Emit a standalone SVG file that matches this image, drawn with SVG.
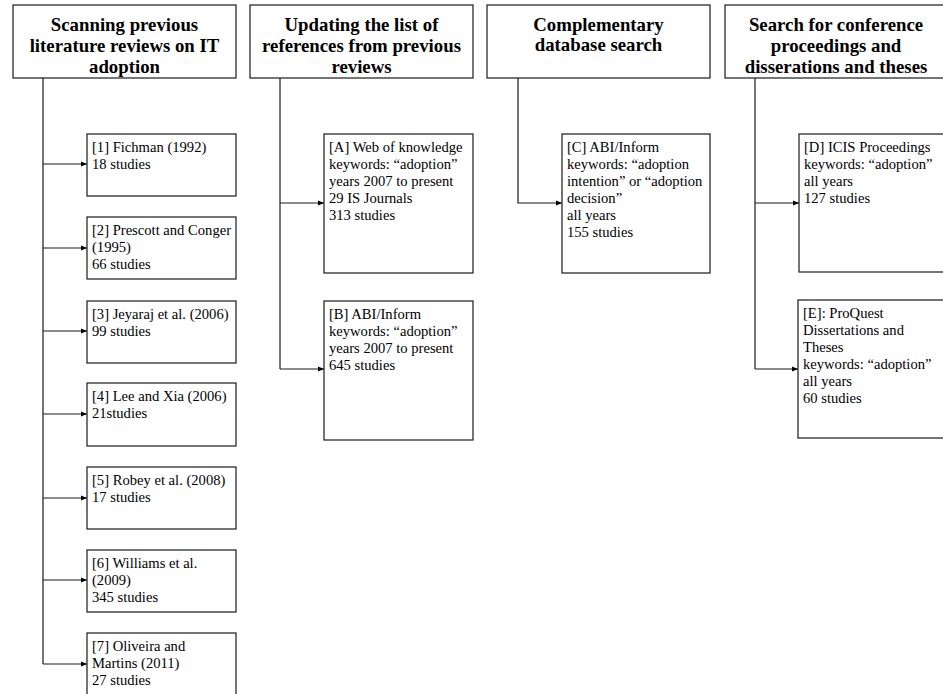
<svg xmlns="http://www.w3.org/2000/svg" width="943" height="694" viewBox="0 0 943 694">
<style>
.box{fill:#fff;stroke:#1a1a1a;stroke-width:1.2}
.h{font-family:"Liberation Serif","Times New Roman",serif;font-size:18.8px;font-weight:bold;text-anchor:middle;fill:#000}
.t{font-family:"Liberation Serif","Times New Roman",serif;font-size:14.6px;fill:#000}
.ln{fill:none;stroke:#1a1a1a;stroke-width:1.2}
</style>
<defs>
<marker id="ah" viewBox="0 0 6 6" refX="6" refY="3" markerWidth="6" markerHeight="6" markerUnits="userSpaceOnUse" orient="auto">
<path d="M0,0.5 L6,3 L0,5.5 Z" fill="#000"/>
</marker>
</defs>
<rect width="943" height="694" fill="#fff"/>
<g id="connectors">
<path class="ln" d="M43,78 V664"/>
<path class="ln" d="M43,164 H87" marker-end="url(#ah)"/>
<path class="ln" d="M43,248 H87" marker-end="url(#ah)"/>
<path class="ln" d="M43,331 H87" marker-end="url(#ah)"/>
<path class="ln" d="M43,414 H87" marker-end="url(#ah)"/>
<path class="ln" d="M43,498 H87" marker-end="url(#ah)"/>
<path class="ln" d="M43,580 H87" marker-end="url(#ah)"/>
<path class="ln" d="M43,664 H87" marker-end="url(#ah)"/>
<path class="ln" d="M280,78 V369"/>
<path class="ln" d="M280,203 H324" marker-end="url(#ah)"/>
<path class="ln" d="M280,369 H324" marker-end="url(#ah)"/>
<path class="ln" d="M518,78 V203 H562" marker-end="url(#ah)"/>
<path class="ln" d="M755,78 V369"/>
<path class="ln" d="M755,203 H799" marker-end="url(#ah)"/>
<path class="ln" d="M755,369 H798" marker-end="url(#ah)"/>
</g>
<g id="h1">
<rect class="box" x="13" y="5" width="223" height="73"/>
<text class="h" x="124.5" y="31">Scanning previous</text>
<text class="h" x="124.5" y="52">literature reviews on IT</text>
<text class="h" x="124.5" y="73">adoption</text>
</g>
<g id="h2">
<rect class="box" x="250" y="5" width="223" height="73"/>
<text class="h" x="361.5" y="31">Updating the list of</text>
<text class="h" x="361.5" y="52">references from previous</text>
<text class="h" x="361.5" y="73">reviews</text>
</g>
<g id="h3">
<rect class="box" x="487" y="5" width="223" height="73"/>
<text class="h" x="598.5" y="31">Complementary</text>
<text class="h" x="598.5" y="51">database search</text>
</g>
<g id="h4">
<rect class="box" x="725" y="5" width="223" height="73"/>
<text class="h" x="836" y="31">Search for conference</text>
<text class="h" x="836" y="52">proceedings and</text>
<text class="h" x="836" y="73">disserations and theses</text>
</g>
<g id="n1">
<rect class="box" x="87" y="134" width="149" height="62"/>
<text class="t" x="92" y="152">[1] Fichman (1992)</text>
<text class="t" x="92" y="169">18 studies</text>
</g>
<g id="n2">
<rect class="box" x="87" y="217" width="149" height="62"/>
<text class="t" x="92" y="235">[2] Prescott and Conger</text>
<text class="t" x="92" y="252">(1995)</text>
<text class="t" x="92" y="269">66 studies</text>
</g>
<g id="n3">
<rect class="box" x="87" y="301" width="149" height="62"/>
<text class="t" x="92" y="319">[3] Jeyaraj et al. (2006)</text>
<text class="t" x="92" y="336">99 studies</text>
</g>
<g id="n4">
<rect class="box" x="87" y="383" width="149" height="63"/>
<text class="t" x="92" y="401">[4] Lee and Xia (2006)</text>
<text class="t" x="92" y="418">21studies</text>
</g>
<g id="n5">
<rect class="box" x="87" y="467" width="149" height="62"/>
<text class="t" x="92" y="485">[5] Robey et al. (2008)</text>
<text class="t" x="92" y="502">17 studies</text>
</g>
<g id="n6">
<rect class="box" x="87" y="550" width="149" height="62"/>
<text class="t" x="92" y="568">[6] Williams et al.</text>
<text class="t" x="92" y="585">(2009)</text>
<text class="t" x="92" y="602">345 studies</text>
</g>
<g id="n7">
<rect class="box" x="87" y="633" width="149" height="62"/>
<text class="t" x="92" y="651">[7] Oliveira and</text>
<text class="t" x="92" y="668">Martins (2011)</text>
<text class="t" x="92" y="685">27 studies</text>
</g>
<g id="nA">
<rect class="box" x="324" y="134" width="149" height="139"/>
<text class="t" x="329" y="152">[A] Web of knowledge</text>
<text class="t" x="329" y="169">keywords: “adoption”</text>
<text class="t" x="329" y="186">years 2007 to present</text>
<text class="t" x="329" y="203">29 IS Journals</text>
<text class="t" x="329" y="220">313 studies</text>
</g>
<g id="nB">
<rect class="box" x="324" y="301" width="149" height="139"/>
<text class="t" x="329" y="319">[B] ABI/Inform</text>
<text class="t" x="329" y="336">keywords: “adoption”</text>
<text class="t" x="329" y="353">years 2007 to present</text>
<text class="t" x="329" y="370">645 studies</text>
</g>
<g id="nC">
<rect class="box" x="562" y="134" width="148" height="139"/>
<text class="t" x="567" y="152">[C] ABI/Inform</text>
<text class="t" x="567" y="169">keywords: “adoption</text>
<text class="t" x="567" y="186">intention” or “adoption</text>
<text class="t" x="567" y="203">decision”</text>
<text class="t" x="567" y="220">all years</text>
<text class="t" x="567" y="237">155 studies</text>
</g>
<g id="nD">
<rect class="box" x="799" y="134" width="149" height="138"/>
<text class="t" x="804" y="152">[D] ICIS Proceedings</text>
<text class="t" x="804" y="169">keywords: “adoption”</text>
<text class="t" x="804" y="186">all years</text>
<text class="t" x="804" y="203">127 studies</text>
</g>
<g id="nE">
<rect class="box" x="798" y="300" width="150" height="138"/>
<text class="t" x="803" y="318">[E]: ProQuest</text>
<text class="t" x="803" y="335">Dissertations and</text>
<text class="t" x="803" y="352">Theses</text>
<text class="t" x="803" y="369">keywords: “adoption”</text>
<text class="t" x="803" y="386">all years</text>
<text class="t" x="803" y="403">60 studies</text>
</g>
</svg>
